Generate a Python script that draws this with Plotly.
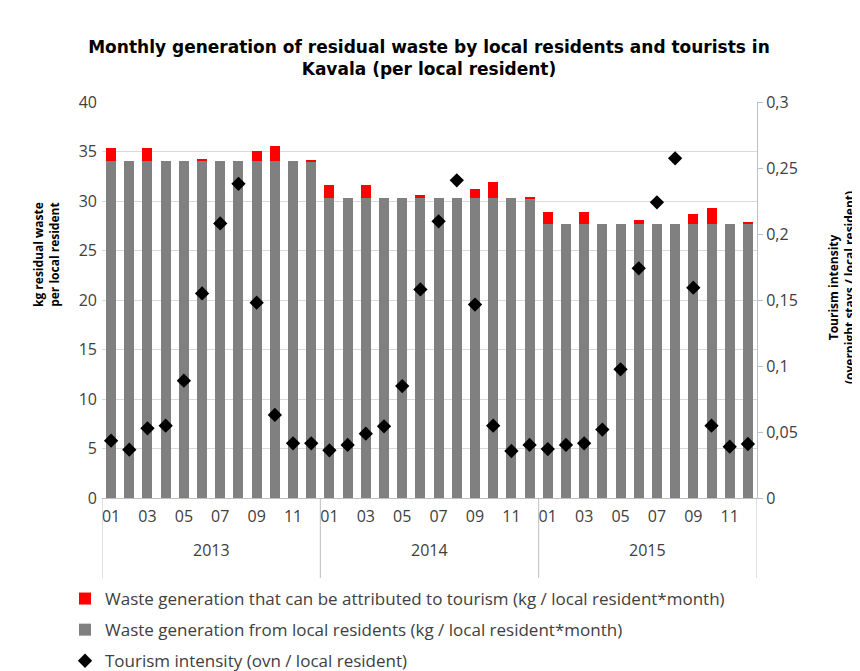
import plotly.graph_objects as go

years = ["2013", "2014", "2015"]
months = ["01", "02", "03", "04", "05", "06", "07", "08", "09", "10", "11", "12"]
month_ticks = ["01", "03", "05", "07", "09", "11"]

# kg residual waste per local resident (grey part)
local_waste = [34.0] * 12 + [30.3] * 12 + [27.7] * 12
# extra waste attributable to tourism (red part)
tourism_waste = [1.4, 0, 1.4, 0, 0, 0.27, 0, 0, 1.05, 1.6, 0, 0.07,
                 1.3, 0, 1.3, 0, 0, 0.35, 0, 0, 0.95, 1.6, 0, 0.1,
                 1.2, 0, 1.2, 0, 0, 0.4, 0, 0, 1.0, 1.55, 0, 0.13]
# tourism intensity (overnight stays / local resident)
tourism_intensity = [0.0434, 0.0366, 0.0528, 0.0548, 0.0889, 0.155, 0.208, 0.238, 0.148, 0.0629, 0.0414, 0.0414,
                     0.0361, 0.0402, 0.0487, 0.0543, 0.0848, 0.158, 0.2096, 0.2407, 0.1465, 0.0548, 0.0356, 0.0402,
                     0.0371, 0.0402, 0.0414, 0.0518, 0.0975, 0.174, 0.224, 0.2573, 0.1593, 0.0548, 0.0389, 0.0409]

x = list(range(len(local_waste)))
tickvals = [i for i in x if months[i % 12] in month_ticks]
ticktext = [months[i % 12] for i in tickvals]

FONT = "Open Sans"
TXT = "#404040"
W, H = 860, 671
OFF = 8  # page body margin offset of the rendered figure
L, R, T, B = 94, 111, 94, 181
PW, PH = W - L - R, H - T - B


def px_x(px):
    return (px - OFF - L) / PW


def px_y(py):
    return (H - B - (py - OFF)) / PH


fig = go.Figure()
fig.add_trace(go.Bar(x=x, y=local_waste, marker_color="#808080", marker_line_width=0,
                     name="Waste generation from local residents (kg / local resident*month)",
                     legendgroup="b", legendrank=2))
fig.add_trace(go.Bar(x=x, y=tourism_waste, marker_color="#ff0000", marker_line_width=0,
                     name="Waste generation that can be attributed to tourism (kg / local resident*month)",
                     legendgroup="a", legendrank=1))
fig.add_trace(go.Scatter(x=x, y=tourism_intensity, yaxis="y2", mode="markers",
                         marker=dict(symbol="diamond", size=11, color="black"),
                         name="Tourism intensity (ovn / local resident)", legendgroup="c", legendrank=3))

shapes = []
for b in [-0.5, 11.5, 23.5, 35.5]:
    shapes.append(dict(type="line", xref="x", yref="paper", x0=b, x1=b, y0=0, y1=px_y(578),
                       line=dict(color="#bfbfbf", width=1)))

annotations = []
for k, yr in enumerate(years):
    annotations.append(dict(x=k * 12 + 5.5, y=px_y(550), xref="x", yref="paper", text=yr, showarrow=False,
                            font=dict(family=FONT, size=16, color=TXT), yanchor="middle"))
annotations.append(dict(x=px_x(46), y=px_y(255), xref="paper", yref="paper",
                        text="<b>kg residual waste<br>per local resident</b>",
                        textangle=-90, showarrow=False, font=dict(family=FONT, size=12, color="black"),
                        xanchor="center", yanchor="middle"))
annotations.append(dict(x=px_x(841), y=px_y(288), xref="paper", yref="paper",
                        text="<b>Tourism intensity<br>(overnight stays / local resident)</b>",
                        textangle=-90, showarrow=False, font=dict(family=FONT, size=12, color="black"),
                        xanchor="center", yanchor="middle"))

fig.update_layout(
    width=W, height=H,
    margin=dict(l=L, r=R, t=T, b=B, autoexpand=False),
    paper_bgcolor="white", plot_bgcolor="white",
    barmode="stack", bargap=0.45,
    title=dict(text="<b>Monthly generation of residual waste by local residents and tourists in<br>Kavala (per local resident)</b>",
               x=(429 - OFF) / W, xref="container", xanchor="center", y=1 - 45 / H, yanchor="top",
               font=dict(family="DejaVu Sans", size=17, color="black")),
    font=dict(family=FONT, size=16, color=TXT),
    xaxis=dict(range=[-0.5, 35.5], tickvals=tickvals, ticktext=ticktext, showgrid=False,
               showline=True, linecolor="#bfbfbf", ticks="", tickfont=dict(size=16, color=TXT), zeroline=False,
               ticklabelstandoff=4),
    yaxis=dict(range=[0, 40], dtick=5, showgrid=True, gridcolor="#d9d9d9", zeroline=False,
               showline=False, ticks="", tickfont=dict(size=16, color=TXT), ticklabelstandoff=4),
    yaxis2=dict(range=[0, 0.3], dtick=0.05, overlaying="y", side="right", showgrid=False, zeroline=False,
                showline=True, linecolor="#bfbfbf", ticks="outside", ticklen=5, tickcolor="#bfbfbf",
                tickfont=dict(size=16, color=TXT), tickformat=".2~f"),
    separators=", ",
    legend=dict(x=57 / W, y=1 - 573 / H, xref="container", yref="container", xanchor="left", yanchor="top",
                orientation="v", traceorder="grouped", tracegroupgap=6,
                font=dict(family=FONT, size=17, color=TXT), bgcolor="rgba(0,0,0,0)"),
    shapes=shapes, annotations=annotations,
)

fig.write_html("out.html")
